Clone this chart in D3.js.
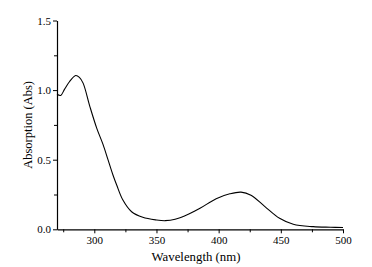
<!DOCTYPE html>
<html>
<head>
<meta charset="utf-8">
<script src="https://cdn.jsdelivr.net/npm/d3@7/dist/d3.min.js"></script>
<style>
  body { margin: 0; background: #fff; }
  svg { display: block; }
</style>
</head>
<body>
<div id="chart"></div>
<script>
// Absorption spectrum
const wavelength = [270, 273, 276, 280, 285, 288, 291, 296.5, 302, 307, 311, 315, 318, 323, 330, 339, 350, 357, 365, 376, 385, 398, 409, 418, 426, 437, 449, 460, 476, 490, 500];
const absorbance = [0.97, 0.962, 1.005, 1.06, 1.105, 1.092, 1.05, 0.88, 0.725, 0.61, 0.5, 0.39, 0.318, 0.21, 0.126, 0.086, 0.067, 0.062, 0.072, 0.11, 0.151, 0.22, 0.255, 0.267, 0.245, 0.165, 0.079, 0.036, 0.019, 0.015, 0.013];

const xTicks = [300, 350, 400, 450, 500];
const xMinorTicks = [275, 325, 375, 425, 475];
const yTicks = [0.0, 0.5, 1.0, 1.5];
const yMinorTicks = [0.25, 0.75, 1.25];

const width = 372, height = 267;
const margin = { top: 20.5, right: 29, bottom: 37.7, left: 57 };
const innerW = width - margin.left - margin.right;
const innerH = height - margin.top - margin.bottom;

const svg = d3.select('#chart').append('svg')
    .attr('width', width)
    .attr('height', height);

const chart = svg.append('g')
    .attr('transform', `translate(${margin.left},${margin.top})`);

const xScale = d3.scaleLinear().domain([270, 500]).range([0, innerW]);
const yScale = d3.scaleLinear().domain([0, 1.5]).range([innerH, 0]);

const font = '"Liberation Serif", "Times New Roman", serif';

// minor ticks first so the main axes draw over them
chart.append('g')
    .attr('transform', `translate(0,${innerH})`)
    .call(d3.axisBottom(xScale).tickValues(xMinorTicks).tickSize(3).tickFormat(''))
    .call(ax => { ax.select('.domain').remove(); ax.selectAll('line').attr('stroke', '#000'); });

chart.append('g')
    .call(d3.axisLeft(yScale).tickValues(yMinorTicks).tickSize(3).tickFormat(''))
    .call(ax => { ax.select('.domain').remove(); ax.selectAll('line').attr('stroke', '#000'); });

// Main axes
chart.append('g')
    .attr('transform', `translate(0,${innerH})`)
    .call(d3.axisBottom(xScale).tickValues(xTicks).tickSize(4).tickSizeOuter(0).tickPadding(3).tickFormat(d3.format('d')))
    .call(ax => {
        ax.select('.domain').attr('stroke', '#000').attr('stroke-width', 1.2);
        ax.selectAll('line').attr('stroke', '#000');
        ax.selectAll('text').attr('fill', '#000').attr('font-size', '11px').attr('font-family', font);
    });

chart.append('g')
    .call(d3.axisLeft(yScale).tickValues(yTicks).tickSize(4).tickSizeOuter(0).tickPadding(2).tickFormat(d3.format('.1f')))
    .call(ax => {
        ax.select('.domain').attr('stroke', '#000').attr('stroke-width', 1.2);
        ax.selectAll('line').attr('stroke', '#000');
        ax.selectAll('text').attr('fill', '#000').attr('font-size', '11px').attr('font-family', font);
    });

// Spectrum line
const data = wavelength.map((w, i) => ({ w, a: absorbance[i] }));
chart.append('path')
    .datum(data)
    .attr('fill', 'none')
    .attr('stroke', '#000')
    .attr('stroke-width', 1.1)
    .attr('d', d3.line()
        .x(d => xScale(d.w))
        .y(d => yScale(d.a))
        .curve(d3.curveCatmullRom));

// Axis titles
chart.append('text')
    .attr('x', innerW / 2 - 4)
    .attr('y', innerH + 31.5)
    .attr('text-anchor', 'middle')
    .attr('fill', '#000')
    .attr('font-size', '12.8px')
    .attr('font-family', font)
    .text('Wavelength (nm)');

chart.append('text')
    .attr('transform', 'rotate(-90)')
    .attr('x', -innerH / 2)
    .attr('y', -25)
    .attr('text-anchor', 'middle')
    .attr('fill', '#000')
    .attr('font-size', '12.5px')
    .attr('font-family', font)
    .text('Absorption (Abs)');
</script>
</body>
</html>
